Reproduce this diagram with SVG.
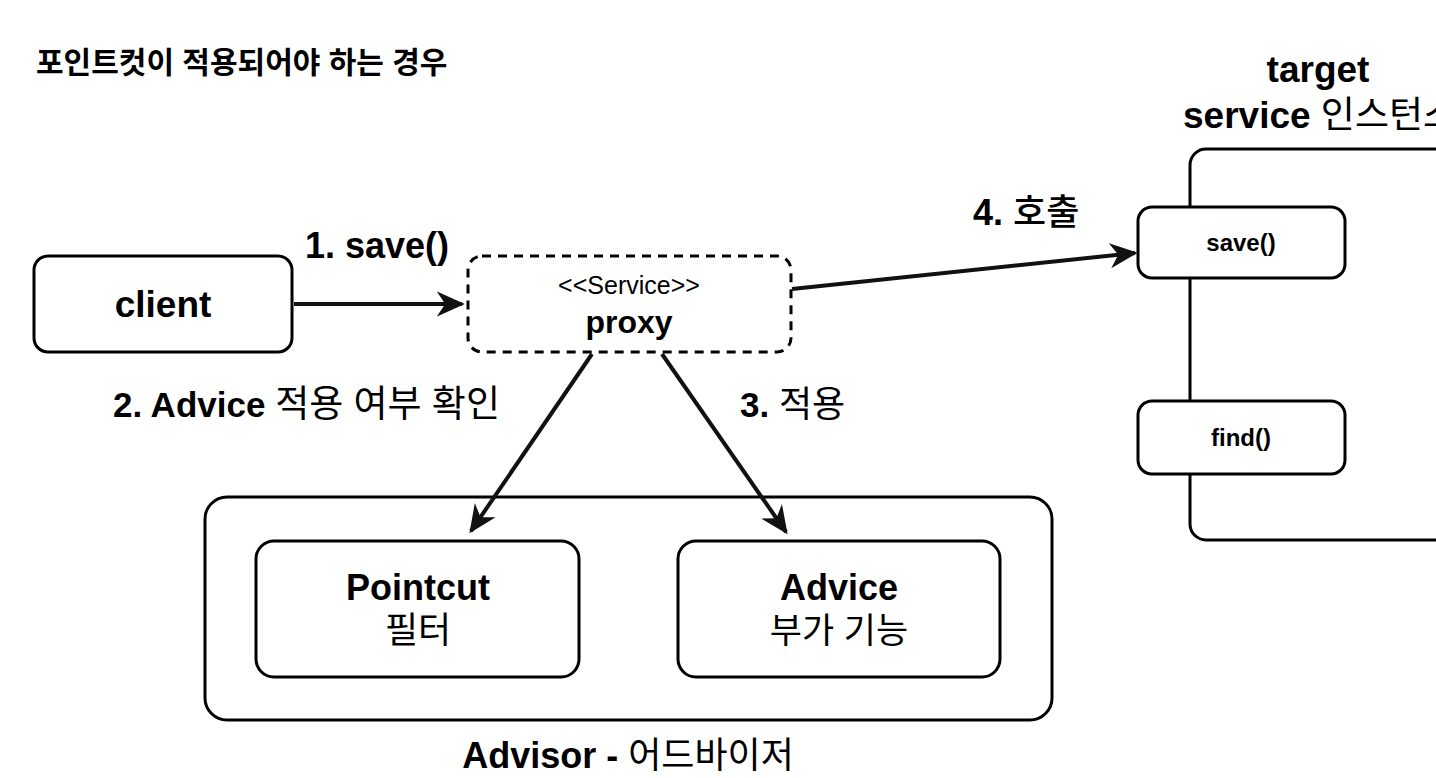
<svg xmlns="http://www.w3.org/2000/svg" width="1436" height="778" viewBox="0 0 1436 778">
<style>
.box{fill:#fff;stroke:#000;stroke-width:3}
.dash{fill:#fff;stroke:#000;stroke-width:3;stroke-dasharray:9 7}
.t{font-family:"Liberation Sans","Noto Sans CJK KR",sans-serif;fill:#000}
.b{font-weight:bold}
.k{font-weight:normal}
.edge{stroke:#111;stroke-width:4;fill:none;marker-end:url(#ah)}
</style>
<defs>
<marker id="ah" viewBox="0 0 20 20" refX="18" refY="10" markerWidth="7" markerHeight="7" markerUnits="strokeWidth" orient="auto">
<path d="M0,1 L20,10 L0,19 L6,10 Z" fill="#111"/>
</marker>
</defs>
<rect width="1436" height="778" fill="#fff"/>
<text class="t b" x="36" y="73" font-size="30">포인트컷이 적용되어야 하는 경우</text>

<g id="labels">
<text class="t b" x="305" y="258" font-size="36">1. save()</text>
<text class="t b" x="973" y="225" font-size="36">4. <tspan font-weight="500">호출</tspan></text>
<text class="t b" x="113" y="417" font-size="35">2. Advice <tspan class="k" font-size="37">적용 여부 확인</tspan></text>
<text class="t b" x="740" y="417" font-size="35">3. <tspan class="k" font-size="36">적용</tspan></text>
</g>

<g id="client">
<rect class="box" x="34" y="256" width="258" height="96" rx="14"/>
<text class="t b" x="163" y="317" font-size="37" text-anchor="middle">client</text>
</g>

<g id="proxy">
<rect class="dash" x="468" y="256" width="323" height="96" rx="14"/>
<text class="t" x="629" y="294" font-size="25" text-anchor="middle">&lt;&lt;Service&gt;&gt;</text>
<text class="t b" x="629" y="333" font-size="32" text-anchor="middle">proxy</text>
</g>

<g id="target">
<text class="t b" x="1318" y="82" font-size="37" text-anchor="middle">target</text>
<text class="t b" x="1183" y="128" font-size="37">service <tspan class="k">인스턴스</tspan></text>
<rect class="box" x="1190" y="149" width="300" height="391" rx="16"/>
</g>

<g id="save">
<rect class="box" x="1138" y="207" width="207" height="71" rx="14"/>
<text class="t b" x="1241" y="251" font-size="24" text-anchor="middle">save()</text>
</g>

<g id="find">
<rect class="box" x="1138" y="401" width="207" height="73" rx="14"/>
<text class="t b" x="1241" y="446" font-size="24" text-anchor="middle">find()</text>
</g>

<g id="advisor">
<rect class="box" x="205" y="497" width="847" height="223" rx="22"/>
<text class="t b" x="628" y="768" font-size="36" text-anchor="middle">Advisor - <tspan class="k">어드바이저</tspan></text>
</g>

<g id="pointcut">
<rect class="box" x="256" y="541" width="323" height="136" rx="18"/>
<text class="t b" x="418" y="600" font-size="36" text-anchor="middle">Pointcut</text>
<text class="t" x="418" y="643" font-size="36" text-anchor="middle">필터</text>
</g>

<g id="advice">
<rect class="box" x="678" y="541" width="322" height="136" rx="18"/>
<text class="t b" x="839" y="600" font-size="36" text-anchor="middle">Advice</text>
<text class="t" x="839" y="643" font-size="35" text-anchor="middle">부가 기능</text>
</g>

<g id="connectors">
<line class="edge" x1="294" y1="304" x2="462" y2="304"/>
<line class="edge" x1="792" y1="289" x2="1135" y2="253"/>
<line class="edge" x1="592" y1="354" x2="471" y2="531"/>
<line class="edge" x1="662" y1="354" x2="786" y2="532"/>
</g>
</svg>
